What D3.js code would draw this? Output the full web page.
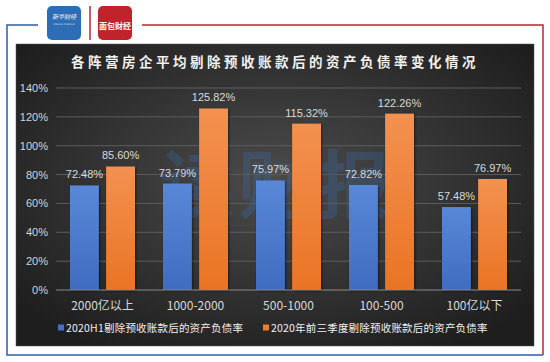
<!DOCTYPE html>
<html>
<head>
<meta charset="utf-8">
<script src="https://cdn.jsdelivr.net/npm/d3@7"></script>
<style>
  body { margin: 0; background: #fff; }
  svg { display: block; }
</style>
</head>
<body>
<svg></svg>
<script>
const width = 550;
const height = 362;

// -----------------------------
// DATA
// -----------------------------
const categories = ["2000亿以上", "1000-2000", "500-1000", "100-500", "100亿以下"];
const seriesNames = ["2020H1剔除预收账款后的资产负债率", "2020年前三季度剔除预收账款后的资产负债率"];
const h1Values = [72.48, 73.79, 75.97, 72.82, 57.48];
const q3Values = [85.60, 125.82, 115.32, 122.26, 76.97];
const yTicks = [0, 20, 40, 60, 80, 100, 120, 140];
const title = "各阵营房企平均剔除预收账款后的资产负债率变化情况";

const seriesColors = ["#4472c4", "#ed7d31"];

const svg = d3.select("svg")
  .attr("width", width)
  .attr("height", height);

const defs = svg.append("defs");

// panel gradient
const bg = defs.append("radialGradient")
  .attr("id", "panelBg")
  .attr("cx", "50%").attr("cy", "45%").attr("r", "65%");
bg.append("stop").attr("offset", "0%").attr("stop-color", "#4b4b4b");
bg.append("stop").attr("offset", "100%").attr("stop-color", "#1e1e1e");

// bar gradients
const barGrads = [["#5a88d8", "#3f6cc0"], ["#f39150", "#ea7424"]];
barGrads.forEach((c, i) => {
  const g = defs.append("linearGradient")
    .attr("id", "bar" + i)
    .attr("x1", 0).attr("y1", 0).attr("x2", 0).attr("y2", 1);
  g.append("stop").attr("offset", "0%").attr("stop-color", c[0]);
  g.append("stop").attr("offset", "100%").attr("stop-color", c[1]);
});

// -----------------------------
// FRAME
// -----------------------------
const frame = svg.append("g").attr("fill", "none").attr("stroke-width", 1.5);
frame.append("path").attr("d", "M38,25H7V355H543").attr("stroke", "#2f5ea8");
frame.append("path").attr("d", "M142,25H543V355").attr("stroke", "#c0232c");

// logos
svg.append("rect").attr("x", 47).attr("y", 6).attr("width", 34).attr("height", 34)
  .attr("rx", 5).attr("fill", "#2d6db5");
svg.append("text").attr("x", 64).attr("y", 19).attr("text-anchor", "middle")
  .attr("fill", "#fff").attr("font-size", 6).attr("font-style", "italic")
  .attr("font-family", "Noto Sans CJK SC").text("新华财经");
svg.append("text").attr("x", 64).attr("y", 25).attr("text-anchor", "middle")
  .attr("fill", "#dde").attr("font-size", 2.5)
  .attr("font-family", "DejaVu Sans").text("XINHUA FINANCE");
svg.append("line").attr("x1", 90).attr("x2", 90).attr("y1", 6).attr("y2", 40)
  .attr("stroke", "#c0232c").attr("stroke-width", 1.5);
svg.append("rect").attr("x", 98).attr("y", 6).attr("width", 34).attr("height", 34)
  .attr("rx", 5).attr("fill", "#c0232c");
svg.append("text").attr("x", 115).attr("y", 29).attr("text-anchor", "middle")
  .attr("fill", "#fff").attr("font-size", 8).attr("font-weight", "bold")
  .attr("font-family", "Noto Sans CJK SC").text("面包财经");

// -----------------------------
// PANEL
// -----------------------------
svg.append("rect")
  .attr("x", 16).attr("y", 44).attr("width", 518).attr("height", 302)
  .attr("fill", "url(#panelBg)")
  .attr("stroke", "#555").attr("stroke-width", 0.5);

svg.append("text")
  .attr("x", 275).attr("y", 67)
  .attr("text-anchor", "middle")
  .attr("fill", "#f2f2f2")
  .attr("font-family", "Noto Sans CJK SC")
  .attr("font-weight", "bold")
  .attr("font-size", 13.5)
  .attr("letter-spacing", 3.5)
  .text(title);

// -----------------------------
// SCALES
// -----------------------------
const x = d3.scaleBand().domain(categories).range([56, 521]);
const y = d3.scaleLinear().domain([0, 140]).range([290, 88]);
const inner = d3.scaleBand().domain([0, 1]).range([14, x.bandwidth() - 14]).paddingInner(0.2);

const chart = svg.append("g");

// gridlines
chart.append("g")
  .selectAll("line")
  .data(yTicks.filter(d => d > 0))
  .join("line")
  .attr("x1", 56).attr("x2", 521)
  .attr("y1", d => y(d)).attr("y2", d => y(d))
  .attr("stroke", "#5c5c5c").attr("stroke-width", 1);

// watermark
chart.append("text")
  .attr("x", 277).attr("y", 212)
  .attr("text-anchor", "middle")
  .attr("fill", "#3d6aa8").attr("fill-opacity", 0.3)
  .attr("font-family", "Noto Sans CJK SC").attr("font-weight", "bold")
  .attr("font-size", 74).attr("letter-spacing", 4)
  .text("读财报");

// y axis labels
chart.append("g")
  .selectAll("text")
  .data(yTicks)
  .join("text")
  .attr("x", 48).attr("y", d => y(d) + 4)
  .attr("text-anchor", "end")
  .attr("fill", "#d4d4d4")
  .attr("font-family", "Liberation Sans")
  .attr("font-size", 11)
  .text(d => d + "%");

// -----------------------------
// BARS
// -----------------------------
const rows = categories.map((c, i) => ({ cat: c, vals: [h1Values[i], q3Values[i]] }));

const group = chart.append("g")
  .selectAll("g")
  .data(rows)
  .join("g")
  .attr("transform", d => `translate(${x(d.cat)},0)`);

group.selectAll("rect")
  .data(d => d.vals.map((v, i) => ({ v, i })))
  .join("rect")
  .attr("x", d => inner(d.i))
  .attr("y", d => y(d.v))
  .attr("width", inner.bandwidth())
  .attr("height", d => y(0) - y(d.v))
  .attr("fill", d => `url(#bar${d.i})`)
  .style("filter", "drop-shadow(1px 1px 1px rgba(0,0,0,0.5))");

group.selectAll("text")
  .data(d => d.vals.map((v, i) => ({ v, i })))
  .join("text")
  .attr("x", d => inner(d.i) + inner.bandwidth() / 2)
  .attr("y", d => y(d.v) - 7)
  .attr("text-anchor", "middle")
  .attr("fill", "#d9d9d9")
  .attr("font-family", "Liberation Sans")
  .attr("font-size", 11)
  .text(d => d.v.toFixed(2) + "%");

// baseline
chart.append("line")
  .attr("x1", 56).attr("x2", 521)
  .attr("y1", y(0)).attr("y2", y(0))
  .attr("stroke", "#8a8a8a").attr("stroke-width", 1);

// x labels
chart.append("g")
  .selectAll("text")
  .data(categories)
  .join("text")
  .attr("x", d => x(d) + x.bandwidth() / 2)
  .attr("y", 310)
  .attr("text-anchor", "middle")
  .attr("fill", "#d9d9d9")
  .attr("font-family", "Noto Sans CJK SC")
  .attr("font-size", 12)
  .text(d => d);

// -----------------------------
// LEGEND
// -----------------------------
const legendX = [58, 263];
const legend = chart.append("g")
  .selectAll("g")
  .data(seriesNames)
  .join("g")
  .attr("transform", (d, i) => `translate(${legendX[i]},328)`);

legend.append("rect")
  .attr("x", 0).attr("y", -3.5).attr("width", 6).attr("height", 6)
  .attr("fill", (d, i) => seriesColors[i]);

legend.append("text")
  .attr("x", 8).attr("y", 4)
  .attr("fill", "#f0f0f0")
  .attr("font-family", "Noto Sans CJK SC")
  .attr("font-size", 10.5)
  .attr("letter-spacing", 0.2)
  .text(d => d);
</script>
</body>
</html>
